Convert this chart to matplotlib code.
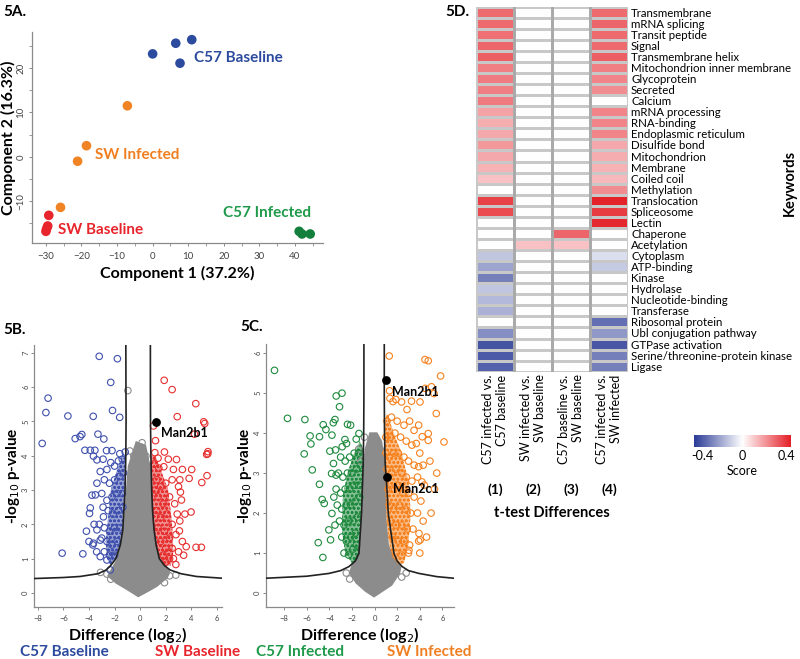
import matplotlib
matplotlib.use('Agg')
import matplotlib.pyplot as plt
import numpy as np
from matplotlib.colors import LinearSegmentedColormap, TwoSlopeNorm

plt.rcParams['font.family'] = ['Lato', 'DejaVu Sans']
plt.rcParams['hatch.linewidth'] = 0.7

#====================
# Data
#====================
# 5A - PCA
pca_names = ['C57 Baseline', 'SW Infected', 'SW Baseline', 'C57 Infected']
pca_colors = ['#2d4b9e', '#f08424', '#e8242c', '#12803c']
pca_label_colors = ['#2d4b9e', '#f07f22', '#e8242c', '#1e9a4a']
pca_x = [[0.0, 6.5, 11.0, 7.7], [-7.1, -18.6, -21.1, -25.9],
         [-29.2, -29.5, -30.0, -29.8], [41.2, 42.0, 44.3]]
pca_y = [[23.2, 25.6, 26.4, 21.1], [11.5, 2.5, -1.0, -11.4],
         [-13.2, -15.6, -16.8, -16.2], [-16.8, -17.4, -17.4]]
pca_label_xy = [(11.5, 22.2), (-16.2, 0.4), (-26.6, -16.5), (19.7, -12.7)]

# 5B - volcano C57 baseline vs SW baseline
b_blue = [(-3.2, 6.9), (-1.78, 6.83), (-2.3, 6.14), (-7.2, 5.68), (-7.37, 5.26), (-5.65, 5.16),
          (-3.67, 5.15), (-2.16, 5.32), (-1.6, 5.12), (-7.66, 4.36), (-5.08, 4.5), (-4.7, 4.56),
          (-4.56, 4.62), (-3.3, 4.63), (-2.84, 4.49), (-4.32, 4.16), (-3.9, 4.16), (-3.54, 4.16),
          (-3.65, 3.99), (-2.63, 4.15), (-2.2, 4.15), (-1.59, 4.06), (-1.17, 4.11), (-6.1, 1.16),
          (-4.48, 1.14), (-3.9, 2.48), (-3.96, 2.32), (-3.77, 2.85), (-3.38, 3.88), (-3.12, 3.54),
          (-3.38, 3.2), (-3.5, 2.86), (-2.87, 2.22), (-3.38, 1.84), (-3.65, 1.45), (-3.12, 1.54),
          (-2.6, 0.96), (-2.34, 0.67), (-3.12, 1.06), (-3.7, 1.4), (-2.9, 3.9), (-2.6, 3.6),
          (-2.3, 3.8), (-2.0, 3.7), (-1.7, 3.85), (-1.4, 3.9), (-2.8, 3.3), (-2.4, 3.2), (-2.0, 3.3),
          (-1.6, 3.4), (-1.3, 3.5), (-3.0, 2.9), (-2.6, 2.7), (-2.2, 2.8), (-1.8, 2.9), (-1.4, 2.9),
          (-2.9, 2.5), (-2.5, 2.4), (-2.1, 2.3), (-1.7, 2.4), (-1.35, 2.5), (-3.2, 2.0), (-2.8, 1.9),
          (-2.4, 1.8), (-2.0, 1.9), (-1.6, 1.9), (-3.0, 1.6), (-2.6, 1.5), (-2.2, 1.4), (-1.8, 1.5),
          (-2.8, 1.2), (-2.4, 1.1), (-2.0, 1.1), (-3.4, 1.2), (-4.0, 1.5), (-3.6, 2.0), (-4.2, 1.8)]
b_red = [(1.88, 6.2), (2.5, 5.93), (4.35, 5.52), (2.9, 5.14), (4.97, 4.99), (5.05, 4.94), (4.25, 4.63),
         (1.2, 4.44), (1.04, 4.87), (5.3, 4.12), (5.2, 4.04), (1.15, 4.09), (1.9, 4.11), (1.4, 3.93),
         (2.2, 3.9), (2.84, 3.89), (1.46, 3.64), (1.85, 3.68), (4.03, 3.6), (1.09, 3.76), (3.98, 2.36),
         (4.37, 1.33), (4.79, 1.33), (5.29, 4.06), (5.23, 3.42), (4.82, 3.22), (3.83, 3.34), (3.15, 2.94),
         (3.23, 2.71), (2.79, 0.83), (3.07, 1.81), (3.6, 1.35), (1.3, 3.3), (1.6, 3.1), (2.0, 3.2),
         (2.5, 3.3), (3.0, 3.1), (3.1, 3.3), (1.4, 2.8), (1.8, 2.6), (2.3, 2.8), (2.7, 2.6), (1.3, 2.4),
         (1.6, 2.2), (2.1, 2.3), (2.5, 2.0), (3.1, 2.1), (1.4, 1.9), (1.9, 1.8), (2.3, 1.6), (2.8, 1.7),
         (1.6, 1.5), (2.0, 1.3), (2.5, 1.3), (3.0, 1.2), (1.8, 1.1), (2.3, 1.0), (2.0, 0.9), (3.3, 1.5),
         (3.5, 2.3), (2.9, 2.3), (1.2, 3.0), (2.6, 3.6), (3.3, 3.6), (2.6, 1.0), (3.4, 1.1)]
b_gray = [(-0.96, 5.9), (-0.8, 4.14), (0.15, 4.38), (0.45, 3.99), (0.52, 3.73), (-0.5, 4.0),
          (-2.6, 0.55), (-3.1, 0.6), (2.79, 0.52), (2.3, 0.5), (-2.3, 0.4), (1.9, 0.3)]
b_cloud = [(-0.15, -0.1), (0.6, 0.05), (1.3, 0.2), (2.1, 0.45), (2.3, 0.6), (1.9, 0.8), (1.5, 1.0),
           (1.2, 1.5), (1.0, 2.2), (0.9, 3.0), (0.8, 3.6), (0.4, 4.3), (-0.3, 4.4), (-0.9, 3.7),
           (-1.05, 3.0), (-1.2, 2.2), (-1.45, 1.5), (-1.75, 1.0), (-2.2, 0.7), (-2.5, 0.5),
           (-1.9, 0.3), (-1.0, 0.1)]
b_blue_core = [(-1.15, 4.0), (-1.18, 3.0), (-1.3, 2.2), (-1.5, 1.5), (-1.85, 1.0), (-2.3, 0.8),
               (-2.6, 1.0), (-2.7, 1.5), (-2.5, 2.2), (-2.3, 3.0), (-1.8, 3.6), (-1.4, 4.0)]
b_red_core = [(0.85, 4.0), (0.88, 3.0), (1.0, 2.0), (1.2, 1.4), (1.5, 1.0), (1.9, 0.8), (2.4, 0.8),
              (2.6, 1.2), (2.5, 2.0), (2.2, 3.0), (1.7, 3.5), (1.2, 4.0)]
b_curve_left = [(-1.12, 7.3), (-1.11, 6.0), (-1.1, 5.0), (-1.12, 4.0), (-1.18, 3.0), (-1.27, 2.4),
                (-1.36, 1.84), (-1.55, 1.4), (-1.9, 1.0), (-2.3, 0.8), (-2.66, 0.67), (-3.3, 0.56),
                (-4.7, 0.48), (-6.0, 0.45), (-8.3, 0.42)]
b_curve_right = [(0.8, 7.3), (0.8, 6.0), (0.81, 5.0), (0.84, 4.0), (0.9, 3.0), (0.97, 2.4), (1.09, 1.84),
                 (1.25, 1.4), (1.5, 1.0), (1.9, 0.8), (2.34, 0.67), (3.2, 0.56), (4.4, 0.48), (6.4, 0.43)]
b_hits = [('Man2b1', 1.22, 4.99)]

# 5C - volcano C57 infected vs SW infected
c_green = [(-8.85, 5.57), (-7.7, 4.37), (-6.16, 4.34), (-2.88, 5.0), (-3.39, 4.93), (-3.1, 4.66),
           (-5.7, 3.93), (-5.63, 3.73), (-4.87, 3.91), (-4.54, 4.21), (-4.3, 4.09), (-3.77, 3.95),
           (-3.65, 4.26), (-3.5, 4.34), (-2.39, 4.22), (-2.12, 4.2), (-2.62, 3.84), (-1.62, 3.85),
           (-1.38, 3.99), (-6.22, 3.48), (-3.95, 3.55), (-3.45, 3.58), (-2.86, 3.66), (-2.48, 3.74),
           (-5.51, 3.08), (-4.87, 2.72), (-4.63, 2.34), (-4.45, 2.24), (-4.98, 1.26), (-4.57, 0.89),
           (-3.89, 1.33), (-4.04, 1.58), (-3.8, 2.99), (-3.63, 3.24), (-3.4, 2.95), (-3.77, 1.99),
           (-3.0, 3.4), (-2.6, 3.3), (-2.2, 3.4), (-1.8, 3.5), (-1.4, 3.5), (-3.2, 3.0), (-2.8, 2.9),
           (-2.4, 3.0), (-2.0, 3.0), (-1.6, 3.1), (-1.25, 3.2), (-3.4, 2.6), (-3.0, 2.5), (-2.6, 2.6),
           (-2.2, 2.6), (-1.8, 2.7), (-1.4, 2.7), (-3.3, 2.2), (-2.9, 2.1), (-2.5, 2.2), (-2.1, 2.2),
           (-1.7, 2.3), (-1.3, 2.4), (-3.1, 1.8), (-2.7, 1.7), (-2.3, 1.8), (-1.9, 1.8), (-1.5, 1.9),
           (-2.9, 1.4), (-2.5, 1.3), (-2.1, 1.4), (-1.7, 1.5), (-2.7, 1.0), (-2.3, 0.95), (-1.9, 1.1),
           (-1.6, 1.2), (-3.5, 1.7), (-3.6, 2.4)]
c_orange = [(1.3, 5.93), (4.46, 5.84), (4.75, 5.81), (5.84, 5.43), (5.04, 5.16), (5.26, 4.99), (4.49, 5.12),
            (1.33, 5.06), (1.36, 4.87), (1.63, 4.79), (1.89, 4.84), (2.39, 4.78), (2.87, 4.59), (3.27, 4.8),
            (4.02, 4.78), (5.46, 4.49), (6.14, 3.78), (4.75, 3.99), (4.75, 3.82), (4.22, 3.91), (3.49, 4.07),
            (3.69, 3.74), (3.9, 3.16), (4.19, 2.78), (4.04, 1.33), (3.04, 1.07), (3.93, 1.49),
            (1.1, 4.3), (1.5, 4.4), (2.0, 4.3), (2.6, 4.2), (3.1, 4.3), (1.0, 3.9), (1.4, 3.9), (1.8, 4.0),
            (2.3, 3.9), (2.8, 3.8), (3.3, 3.7), (4.0, 3.5), (1.0, 3.5), (1.3, 3.4), (1.7, 3.5), (2.1, 3.5),
            (2.6, 3.4), (3.0, 3.3), (3.5, 3.2), (4.3, 3.2), (1.1, 3.1), (1.5, 3.0), (1.9, 3.1), (2.4, 3.0),
            (2.8, 2.9), (3.3, 2.8), (3.8, 2.9), (4.4, 2.7), (1.2, 2.6), (1.6, 2.6), (2.0, 2.7), (2.5, 2.5),
            (3.0, 2.5), (3.5, 2.4), (4.1, 2.3), (1.3, 2.2), (1.7, 2.1), (2.2, 2.2), (2.7, 2.1), (3.2, 2.0),
            (3.8, 2.0), (4.3, 1.8), (1.4, 1.8), (1.9, 1.7), (2.4, 1.7), (2.9, 1.6), (3.4, 1.6), (1.6, 1.4),
            (2.1, 1.3), (2.6, 1.3), (3.1, 1.2), (3.9, 1.3), (1.9, 1.0), (2.4, 0.95), (3.0, 1.0), (4.0, 1.0),
            (4.6, 1.4), (5.0, 2.0), (5.3, 2.6), (4.9, 3.3), (3.9, 4.2), (5.5, 3.0)]
c_gray = [(-1.4, 3.6), (-1.2, 3.3), (-0.9, 3.9), (0.5, 3.6), (-2.5, 0.5), (2.8, 0.5), (-0.7, 3.4),
          (-2.2, 0.35), (2.4, 0.4)]
c_cloud = [(-0.05, -0.09), (0.7, 0.05), (1.5, 0.2), (2.2, 0.5), (2.3, 0.65), (1.7, 0.85), (1.2, 1.2),
           (1.0, 1.8), (0.95, 2.5), (0.88, 3.2), (0.6, 3.8), (0.2, 4.0), (-0.4, 4.0), (-0.8, 3.6),
           (-0.95, 3.0), (-1.05, 2.2), (-1.2, 1.5), (-1.4, 1.0), (-1.9, 0.75), (-2.2, 0.5),
           (-1.6, 0.25), (-0.8, 0.05)]
c_green_core = [(-0.95, 3.6), (-1.0, 3.0), (-1.1, 2.2), (-1.3, 1.3), (-1.5, 0.85), (-2.0, 0.75),
                (-2.6, 1.0), (-2.9, 1.6), (-2.8, 2.4), (-2.4, 3.0), (-1.8, 3.5), (-1.3, 3.8)]
c_orange_core = [(0.88, 4.2), (0.92, 3.0), (1.0, 2.2), (1.2, 1.4), (1.55, 0.9), (2.1, 0.72), (2.6, 0.75),
                 (3.0, 1.2), (3.2, 2.0), (3.0, 2.8), (2.4, 3.5), (1.7, 4.0), (1.1, 4.5)]
c_curve_left = [(-0.94, 6.3), (-0.94, 5.0), (-0.96, 4.0), (-1.0, 3.3), (-1.08, 2.6), (-1.15, 2.0),
                (-1.38, 0.99), (-1.7, 0.8), (-2.27, 0.66), (-3.0, 0.56), (-4.03, 0.49), (-6.0, 0.42),
                (-9.6, 0.37)]
c_curve_right = [(0.86, 6.3), (0.86, 5.0), (0.88, 4.0), (0.93, 3.3), (1.02, 2.9), (1.12, 2.5), (1.21, 2.0),
                 (1.72, 0.99), (2.0, 0.8), (2.45, 0.66), (3.0, 0.56), (3.93, 0.49), (5.5, 0.41), (7.0, 0.37)]
c_hits = [('Man2b1', 1.04, 5.32), ('Man2c1', 1.12, 2.89)]

# 5D - keyword heatmap
keywords = ['Transmembrane', 'mRNA splicing', 'Transit peptide', 'Signal', 'Transmembrane helix',
            'Mitochondrion inner membrane', 'Glycoprotein', 'Secreted', 'Calcium', 'mRNA processing',
            'RNA-binding', 'Endoplasmic reticulum', 'Disulfide bond', 'Mitochondrion', 'Membrane',
            'Coiled coil', 'Methylation', 'Translocation', 'Spliceosome', 'Lectin', 'Chaperone',
            'Acetylation', 'Cytoplasm', 'ATP-binding', 'Kinase', 'Hydrolase', 'Nucleotide-binding',
            'Transferase', 'Ribosomal protein', 'Ubl conjugation pathway', 'GTPase activation',
            'Serine/threonine-protein kinase', 'Ligase']
comparisons = ['C57 infected vs.\nC57 baseline', 'SW infected vs.\nSW baseline',
               'C57 baseline vs.\nSW baseline', 'C57 infected vs.\nSW infected']
comp_ids = ['(1)', '(2)', '(3)', '(4)']
score_c57_inf_vs_base = [0.29, 0.29, 0.28, 0.30, 0.31, 0.25, 0.26, 0.25, 0.26, 0.18, 0.16, 0.17, 0.20,
                         0.17, 0.15, 0.12, 0.0, 0.37, 0.35, 0.0, 0.0, 0.0, -0.14, -0.22, -0.31, -0.14,
                         -0.17, -0.19, 0.0, -0.27, -0.42, -0.40, -0.38]
score_sw_inf_vs_base = [0.0] * 21 + [0.12] + [0.0] * 11
score_c57_vs_sw_base = [0.0] * 20 + [0.30, 0.12] + [0.0] * 11
score_c57_vs_sw_inf = [0.29, 0.30, 0.29, 0.29, 0.31, 0.25, 0.24, 0.22, 0.0, 0.24, 0.24, 0.24, 0.17,
                       0.16, 0.15, 0.14, 0.22, 0.43, 0.38, 0.42, 0.0, 0.0, -0.08, -0.13, 0.0, 0.0,
                       0.0, 0.0, -0.35, -0.25, -0.41, -0.31, -0.31]
score_ticks = [-0.4, 0, 0.4]

#====================
# Figure
#====================
fig = plt.figure(figsize=(8, 6.59), dpi=100)


def px(l, t, r, b):
    return [l / 800, 1 - b / 659, (r - l) / 800, (b - t) / 659]


def style_axes(ax, fs, ypad):
    for s in ['top', 'right']:
        ax.spines[s].set_visible(False)
    for s in ['left', 'bottom']:
        ax.spines[s].set_color('#8a8a8a')
        ax.spines[s].set_linewidth(0.9)
    ax.tick_params(colors='#8a8a8a', labelcolor='#444444', labelsize=fs, length=2.5, width=0.7)
    ax.tick_params(axis='y', pad=ypad)
    for t in ax.get_yticklabels():
        t.set_rotation(90)
        t.set_va('center')


# ---- 5A PCA ----
ax = fig.add_axes(px(31.7, 31.7, 323, 243.3))
for xs, ys, col, lcol, name, (lx, ly) in zip(pca_x, pca_y, pca_colors, pca_label_colors,
                                                 pca_names, pca_label_xy):
    ax.scatter(xs, ys, s=48, color=col, edgecolors='none', zorder=3)
    ax.text(lx, ly, name, color=lcol, fontsize=11, fontweight='bold', va='center')
ax.set_xlim(-34, 47.9)
ax.set_ylim(-19.5, 28.2)
ax.set_xticks(range(-30, 41, 10))
ax.set_xticks(range(-25, 46, 10), minor=True)
ax.set_yticks(range(-10, 21, 10))
ax.set_yticks(range(-15, 26, 10), minor=True)
style_axes(ax, 7, 2)
ax.tick_params(which='minor', length=2, color='#8a8a8a')
ax.set_xlabel('Component 1 (37.2%)', fontsize=11.5, fontweight='bold', labelpad=4)
ax.set_ylabel('Component 2 (16.3%)', fontsize=11.5, fontweight='bold')
ax.yaxis.set_label_coords(-0.055, 0.5)
fig.text(0.004, 1 - 12 / 659, '5A.', fontsize=11, fontweight='bold', va='center')


# ---- volcano helper ----
def volcano(rect, lims, yticks, ylab_x, left_pts, right_pts, left_col, right_col,
            gray_pts, cloud, left_core, right_core, curve_l, curve_r, hits):
    a = fig.add_axes(rect)
    cx, cy = zip(*cloud)
    a.fill(cx, cy, color='#8c8c8c', lw=1.2, ec='#8c8c8c', zorder=1)
    for core, col in [(left_core, left_col), (right_core, right_col)]:
        kx, ky = zip(*core)
        a.fill(kx, ky, facecolor=col, alpha=0.55, lw=0, zorder=2)
        a.fill(kx, ky, facecolor='none', edgecolor=col, hatch='oooo', lw=0, zorder=2)
    gx, gy = zip(*gray_pts)
    a.scatter(gx, gy, s=22, facecolors='none', edgecolors='#8c8c8c', linewidths=0.8, zorder=2)
    for pts, col in [(left_pts, left_col), (right_pts, right_col)]:
        x, y = zip(*pts)
        a.scatter(x, y, s=22, facecolors='none', edgecolors=col, linewidths=0.8, zorder=3)
    for curve in [curve_l, curve_r]:
        x, y = zip(*curve)
        a.plot(x, y, color='#222222', lw=1.2, zorder=4)
    for name, hx, hy in hits:
        a.scatter([hx], [hy], s=28, color='black', zorder=5)
        a.annotate(name, (hx, hy), xytext=(4, -4), textcoords='offset points', fontsize=9,
                   fontweight='bold', va='top', ha='left', zorder=6)
    a.set_xlim(lims[0], lims[1])
    a.set_ylim(lims[2], lims[3])
    a.set_xticks(range(-8, 7, 2))
    a.set_yticks(yticks)
    style_axes(a, 5.5, 1)
    a.set_xlabel('Difference (log$_2$)', fontsize=11.5, fontweight='bold', labelpad=2)
    a.set_ylabel('-log$_{10}$ p-value', fontsize=11, fontweight='bold')
    a.yaxis.set_label_coords(ylab_x, 0.5)
    return a


volcano(px(34, 345, 222, 607), (-8.3, 6.4, -0.41, 7.23), range(0, 8), -0.062, b_blue, b_red,
        '#3f50ad', '#e5302f', b_gray, b_cloud, b_blue_core, b_red_core,
        b_curve_left, b_curve_right, b_hits)
volcano(px(266, 344, 453.7, 607), (-9.6, 7.0, -0.35, 6.23), range(0, 7), -0.066, c_green, c_orange,
        '#1f8a3e', '#f5821f', c_gray, c_cloud, c_green_core, c_orange_core,
        c_curve_left, c_curve_right, c_hits)
fig.text(0.004, 1 - 330 / 659, '5B.', fontsize=11, fontweight='bold', va='center')
fig.text(240 / 800, 1 - 327 / 659, '5C.', fontsize=11, fontweight='bold', va='center')
fig.text(20 / 800, 1 - 652 / 659, 'C57 Baseline', color='#2d4b9e', fontsize=11, fontweight='bold', va='center')
fig.text(155 / 800, 1 - 652 / 659, 'SW Baseline', color='#e8242c', fontsize=11, fontweight='bold', va='center')
fig.text(256 / 800, 1 - 652 / 659, 'C57 Infected', color='#1e9a4a', fontsize=11, fontweight='bold', va='center')
fig.text(387 / 800, 1 - 652 / 659, 'SW Infected', color='#f07f22', fontsize=11, fontweight='bold', va='center')

# ---- 5D heatmap ----
scores = np.array([score_c57_inf_vs_base, score_sw_inf_vs_base,
                   score_c57_vs_sw_base, score_c57_vs_sw_inf]).T
cmap = LinearSegmentedColormap.from_list('score', ['#2a3a96', '#ffffff', '#e41e26'])
norm = TwoSlopeNorm(vcenter=0, vmin=-0.48, vmax=0.44)
hx = fig.add_axes(px(476, 6.7, 628.3, 371.7))
mesh = hx.pcolormesh(np.arange(len(comparisons) + 1), np.arange(len(keywords) + 1), scores,
                     cmap=cmap, norm=norm, edgecolors='#c8c8c8', linewidth=1.0)
for c in range(1, len(comparisons)):
    hx.axvline(c, color='#a8a8a8', lw=2)
hx.set_xlim(0, len(comparisons))
hx.set_ylim(len(keywords), 0)
for s in hx.spines.values():
    s.set_visible(False)
hx.yaxis.tick_right()
hx.set_yticks(np.arange(len(keywords)) + 0.5)
hx.set_yticklabels(keywords, fontsize=8.3)
hx.set_xticks(np.arange(len(comparisons)) + 0.5)
hx.set_xticklabels(comparisons, rotation=90, fontsize=9, va='top', ha='center', multialignment='right')
hx.tick_params(length=0, pad=2)
for i, cid in enumerate(comp_ids):
    hx.text(i + 0.5, -0.324, cid, transform=hx.get_xaxis_transform(), fontsize=10,
            fontweight='bold', ha='center', va='center')
hx.text(0.5, -0.386, 't-test Differences', transform=hx.transAxes, fontsize=10.5,
        fontweight='bold', ha='center', va='center')
fig.text(790 / 800, 1 - 183 / 659, 'Keywords', rotation=90, fontsize=10.5, fontweight='bold',
         ha='center', va='center')
fig.text(445 / 800, 1 - 12 / 659, '5D.', fontsize=11, fontweight='bold', va='center')

cax = fig.add_axes(px(694, 435, 791, 447))
cb = fig.colorbar(mesh, cax=cax, orientation='horizontal', ticks=score_ticks)
cb.outline.set_visible(False)
cb.ax.set_xticklabels(['-0.4', '0', '0.4'])
cb.ax.tick_params(length=0, labelsize=9, pad=2)
cb.set_label('Score', fontsize=9, labelpad=2)

fig.savefig('out.png', dpi=100)
